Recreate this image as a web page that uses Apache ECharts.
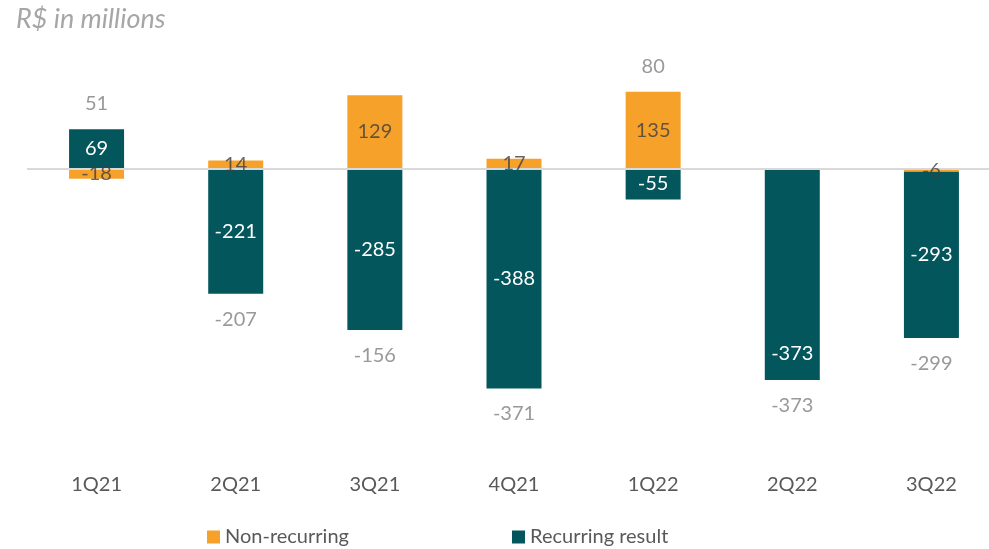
<!DOCTYPE html>
<html>
<head>
<meta charset="utf-8">
<script src="https://cdn.jsdelivr.net/npm/echarts@6/dist/echarts.min.js"></script>
<style>
  html, body { margin: 0; padding: 0; background: #fff; }
  #chart { width: 989px; height: 549px; }
</style>
</head>
<body>
<div id="chart"></div>
<script>
const quarters = ['1Q21', '2Q21', '3Q21', '4Q21', '1Q22', '2Q22', '3Q22'];
const nonRecurring = [-18, 14, 129, 17, 135, 0, -6];
const recurring = [69, -221, -285, -388, -55, -373, -293];
const totals = [51, -207, -156, -371, 80, -373, -299];

const ORANGE = '#F6A12A';
const TEAL = '#02565C';
const FONT = 'Lato';

// where the total label sits: end of the stack on the side of the total
const labelAnchor = quarters.map((q, i) => {
    const pos = Math.max(nonRecurring[i], 0) + Math.max(recurring[i], 0);
    const neg = Math.min(nonRecurring[i], 0) + Math.min(recurring[i], 0);
    const up = totals[i] >= 0;
    return {
        value: up ? pos : neg,
        label: { position: up ? 'top' : 'bottom' }
    };
});

// non-recurring sits next to zero, so its label goes at half its value
const nonRecMid = nonRecurring.map(v => v / 2);

const chart = echarts.init(document.getElementById('chart'));

const option = {
    animation: false,
    title: {
        text: 'R$ in millions',
        left: 11,
        top: 1,
        textStyle: {
            fontFamily: FONT,
            fontSize: 27,
            fontStyle: 'italic',
            fontWeight: 'normal',
            color: '#A6A6A6'
        }
    },
    legend: [
        {
            data: ['Non-recurring'],
            left: 202,
            top: 522,
            icon: 'rect',
            itemWidth: 13,
            itemHeight: 13,
            textStyle: { fontFamily: FONT, fontSize: 20, color: '#595959' }
        },
        {
            data: ['Recurring result'],
            left: 507,
            top: 522,
            icon: 'rect',
            itemWidth: 13,
            itemHeight: 13,
            textStyle: { fontFamily: FONT, fontSize: 20, color: '#595959' }
        }
    ],
    grid: {
        left: 27,
        right: -12,
        top: 55,
        height: 397,
        containLabel: false,
        outerBoundsMode: 'none'
    },
    xAxis: {
        type: 'category',
        data: quarters,
        axisLine: { show: false, onZero: false },
        axisTick: { show: false },
        axisLabel: {
            margin: 23,
            fontFamily: FONT,
            fontSize: 20,
            color: '#595959'
        }
    },
    yAxis: {
        type: 'value',
        min: -500,
        max: 200,
        show: false,
        splitLine: { show: false }
    },
    series: [
        {
            name: 'Non-recurring',
            type: 'bar',
            stack: 'result',
            barWidth: 55,
            data: nonRecurring,
            itemStyle: { color: ORANGE },
            markLine: {
                silent: true,
                symbol: 'none',
                label: { show: false },
                lineStyle: { color: '#D9D9D9', width: 2, type: 'solid' },
                data: [{ yAxis: 0 }]
            }
        },
        {
            name: 'Recurring result',
            type: 'bar',
            stack: 'result',
            barWidth: 55,
            data: recurring.map((v, i) => i === 5
                ? { value: v, label: { position: 'insideBottom', distance: 16 } }
                : v),
            itemStyle: { color: TEAL },
            label: {
                show: true,
                position: 'inside',
                fontFamily: FONT,
                fontSize: 20,
                color: '#FFFFFF'
            }
        },
        {
            name: 'nonRecLabel',
            type: 'scatter',
            z: 10,
            symbolSize: 1,
            itemStyle: { color: 'rgba(0,0,0,0)' },
            data: nonRecMid,
            silent: true,
            label: {
                show: true,
                position: 'inside',
                fontFamily: FONT,
                fontSize: 20,
                color: '#404040',
                formatter: p => (nonRecurring[p.dataIndex] === 0 ? '' : nonRecurring[p.dataIndex])
            }
        },
        {
            name: 'total',
            type: 'scatter',
            symbolSize: 1,
            itemStyle: { color: 'rgba(0,0,0,0)' },
            data: labelAnchor,
            silent: true,
            label: {
                show: true,
                distance: 15,
                fontFamily: FONT,
                fontSize: 20,
                color: '#7F7F7F',
                formatter: p => totals[p.dataIndex]
            }
        }
    ]
};

chart.setOption(option);
</script>
</body>
</html>
